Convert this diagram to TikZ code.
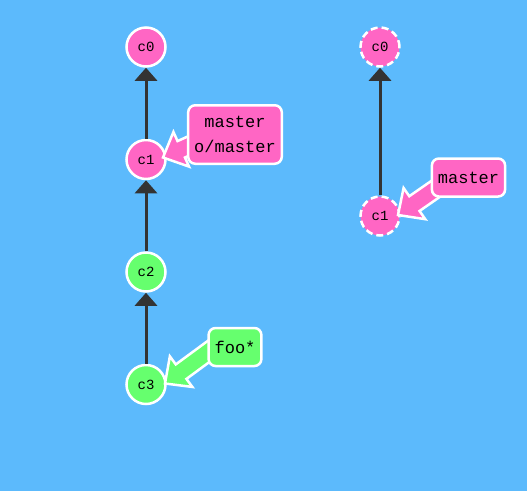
\documentclass[tikz,border=0pt]{standalone}
\usepackage{fontspec}
\setmonofont{Liberation Mono}
\usetikzlibrary{positioning, arrows.meta, calc}

\definecolor{sky}{HTML}{5CBAFC}
\definecolor{branchpink}{HTML}{FF66C4}
\definecolor{branchgreen}{HTML}{66FF6E}
\definecolor{edgegray}{HTML}{333333}

\pgfdeclarelayer{bg}
\pgfdeclarelayer{top}
\pgfsetlayers{bg,main,top}

\tikzset{
  commit/.style={circle, draw=white, line width=2.5pt, minimum size=39pt, inner sep=0pt,
    font=\ttfamily\fontsize{14}{14}\selectfont},
  ghost/.style={commit, dash pattern=on 7pt off 4pt},
  branch/.style={draw=white, line width=2.5pt, rounded corners=7pt, align=center,
    inner xsep=6pt, inner ysep=11pt, minimum height=38pt,
    font=\ttfamily\fontsize{17}{25}\selectfont},
  parent/.style={draw=edgegray, line width=3pt, -{Triangle[width=22pt,length=13pt]}},
}

% fat pointer: colour, start, tip
\newcommand\fatptr[3]{%
  \path (#3) coordinate (pt) ($(#3)!20pt!(#2)$) coordinate (pb) (#2) coordinate (ps);
  \draw[white, line width=2.5pt, fill=#1, line join=miter]
    ($(ps)!9pt!90:(pt)$) -- ($(pb)!9pt!90:(pt)$) -- ($(pb)!19pt!90:(pt)$) -- (pt)
    -- ($(pb)!19pt!-90:(pt)$) -- ($(pb)!9pt!-90:(pt)$) -- ($(ps)!9pt!-90:(pt)$) -- cycle;
}

\begin{document}
\begin{tikzpicture}[x=1pt, y=-1pt, node distance=71pt]
\begin{pgfonlayer}{bg}
\fill[sky] (0,0) rectangle (527,491);
\end{pgfonlayer}
\useasboundingbox (0,0) rectangle (527,491);

% local repo
\node[commit, fill=branchpink] (c0) at (146,47) {c0};
\node[commit, fill=branchpink, below=of c0] (c1) {c1};
\node[commit, fill=branchgreen, below=of c1] (c2) {c2};
\node[commit, fill=branchgreen, below=of c2] (c3) {c3};
\draw[parent] (c1) -- (c0);
\draw[parent] (c2) -- (c1);
\draw[parent] (c3) -- (c2);

% remote repo
\node[ghost, fill=branchpink] (rc0) at (380,47) {c0};
\node[ghost, fill=branchpink, below=127.5pt of rc0] (rc1) {c1};
\draw[parent] (rc1) -- (rc0);

% branches
\begin{pgfonlayer}{top}
\node[branch, fill=branchpink] (master) at (235,134.5) {master\\o/master};
\node[branch, fill=branchgreen] (foo) at (235,347) {foo*};
\node[branch, fill=branchpink] (rmaster) at (468.5,177.5) {master};
\end{pgfonlayer}
\fatptr{branchpink}{$(master.west)+(16,5)$}{$(c1)+(17,-2)$}
\fatptr{branchgreen}{$(foo.west)+(10,-2)$}{$(c3)+(19,-1)$}
\fatptr{branchpink}{$(rmaster.west)+(17,3)$}{$(rc1)+(18,-1)$}
\end{tikzpicture}
\end{document}
